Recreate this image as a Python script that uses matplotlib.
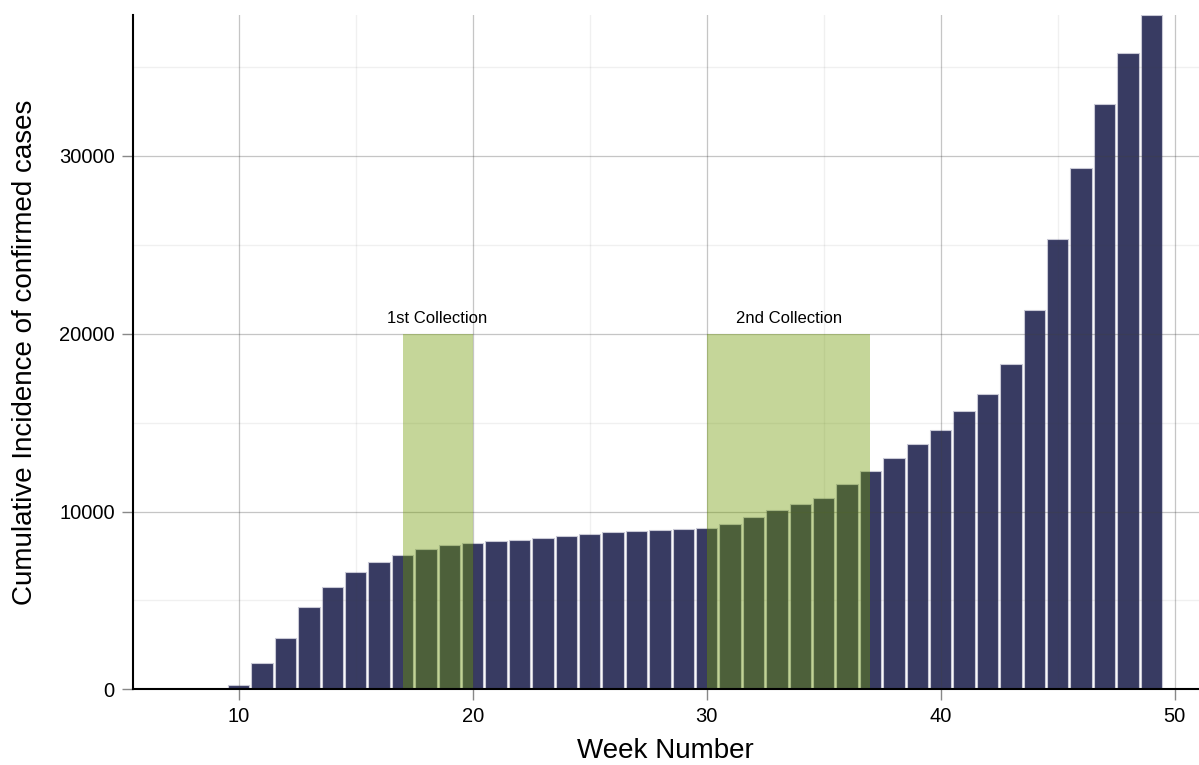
"""
Cumulative incidence of confirmed cases by week, with sample collection windows.
"""
import matplotlib.pyplot as plt

weeks = list(range(10, 50))
cases = [225, 1463, 2886, 4613, 5772, 6582, 7161, 7572, 7875, 8100,
         8230, 8342, 8399, 8511, 8607, 8736, 8849, 8905, 8961, 9017,
         9100, 9316, 9692, 10069, 10424, 10778, 11532, 12297, 12994, 13799,
         14604, 15655, 16594, 18282, 21353, 25340, 29350, 32925, 35810, 37930]

collections = ['1st Collection', '2nd Collection']
collection_start = [17, 30]
collection_end = [20, 37]
collection_top = 20000

plt.rcParams['font.family'] = ['Liberation Sans', 'DejaVu Sans']

fig = plt.figure(figsize=(11.99, 7.65), dpi=100)
ax = fig.add_axes([0.1107, 0.0989, 0.8893, 0.8815])

ax.bar(weeks, cases, width=0.92, color='#383b62', edgecolor='#c9c9d6',
       linewidth=0.8, zorder=2)

for label, start, end in zip(collections, collection_start, collection_end):
    ax.fill_between([start, end], 0, collection_top, color='#6e9a00',
                    alpha=0.4, linewidth=0, zorder=3)
    ax.text((start + end) / 2, collection_top + 450, label, ha='center',
            va='bottom', fontsize=12)

ax.set_xlim(5.47, 51.04)
ax.set_ylim(0, 37930)
ax.set_xticks([10, 20, 30, 40, 50])
ax.set_xticks([15, 25, 35, 45], minor=True)
ax.set_yticks([0, 10000, 20000, 30000])
ax.set_yticks([5000, 15000, 25000, 35000], minor=True)

ax.grid(which='major', color='#404040', alpha=0.3, linewidth=0.9, zorder=4)
ax.grid(which='minor', color='#404040', alpha=0.08, linewidth=0.9, zorder=4)
ax.set_axisbelow(False)

ax.tick_params(which='major', direction='out', length=8, width=1,
               color='#888888', labelsize=14.5, pad=5)
ax.tick_params(which='minor', length=0)

for side in ['top', 'right']:
    ax.spines[side].set_visible(False)
for side in ['left', 'bottom']:
    ax.spines[side].set_linewidth(1.5)
    ax.spines[side].set_zorder(5)

ax.set_xlabel('Week Number', fontsize=20, labelpad=8)
ax.set_ylabel('Cumulative Incidence of confirmed cases', fontsize=20, labelpad=15)

fig.savefig('out.png', dpi=100)
